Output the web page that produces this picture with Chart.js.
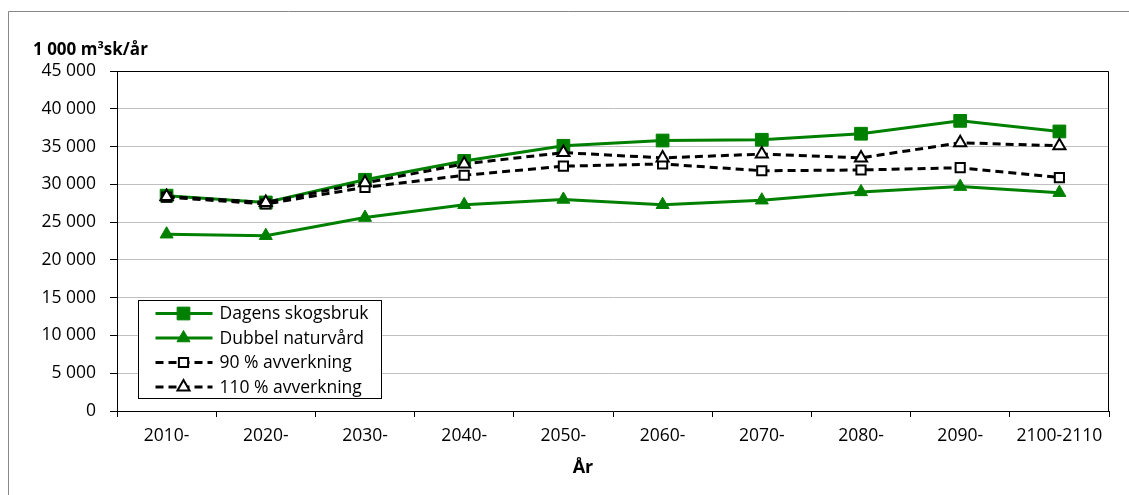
<!DOCTYPE html>
<html>
<head>
<meta charset="utf-8">
<script src="https://cdn.jsdelivr.net/npm/chart.js@4/dist/chart.umd.min.js"></script>
<style>
  body { margin: 0; background: #fff; }
  #wrap { position: relative; width: 1129px; height: 495px; }
</style>
</head>
<body>
<div id="wrap"><canvas id="c"></canvas></div>
<script>
const years = ['2010-', '2020-', '2030-', '2040-', '2050-', '2060-', '2070-', '2080-', '2090-', '2100-2110'];
const dagens = [28500, 27600, 30600, 33100, 35100, 35800, 35900, 36700, 38400, 37000];
const dubbel = [23400, 23200, 25600, 27300, 28000, 27300, 27900, 29000, 29700, 28900];
const avv90 = [28300, 27400, 29600, 31200, 32400, 32700, 31800, 31900, 32200, 30900];
const avv110 = [28400, 27600, 30200, 32700, 34200, 33500, 34000, 33500, 35500, 35100];
const seriesNames = ['Dagens skogsbruk', 'Dubbel naturvård', '90 % avverkning', '110 % avverkning'];
const yTitle = '1 000 m³sk/år';
const xTitle = 'År';

const FONT = '"Open Sans", Lato, sans-serif';
const green = '#008000';

function fmt(v) {
  return String(v).replace(/\B(?=(\d{3})+(?!\d))/g, ' ');
}

function marker(ctx, style, x, y, r, fill, stroke, lw) {
  ctx.save();
  ctx.beginPath();
  if (style === 'rect') {
    const h = r * Math.SQRT1_2;
    ctx.rect(x - h, y - h, 2 * h, 2 * h);
  } else {
    ctx.moveTo(x, y - r);
    ctx.lineTo(x + r * 0.866, y + r * 0.5);
    ctx.lineTo(x - r * 0.866, y + r * 0.5);
    ctx.closePath();
  }
  ctx.fillStyle = fill;
  ctx.fill();
  ctx.lineWidth = lw;
  ctx.strokeStyle = stroke;
  ctx.setLineDash([]);
  ctx.stroke();
  ctx.restore();
}

const extras = {
  id: 'extras',
  beforeDraw(chart) {
    const ctx = chart.ctx;
    ctx.save();
    ctx.strokeStyle = '#878787';
    ctx.lineWidth = 1;
    ctx.beginPath();
    ctx.moveTo(8.5, 495);
    ctx.lineTo(8.5, 11.5);
    ctx.lineTo(1129, 11.5);
    ctx.stroke();
    ctx.restore();
  },
  afterDatasetsDraw(chart) {
    const ctx = chart.ctx;
    const a = chart.chartArea;
    ctx.save();
    // plot frame
    ctx.strokeStyle = '#000';
    ctx.lineWidth = 1;
    ctx.beginPath();
    ctx.moveTo(Math.round(a.left) + 0.5, Math.round(a.top) + 0.5);
    ctx.lineTo(Math.round(a.right) - 0.5, Math.round(a.top) + 0.5);
    ctx.lineTo(Math.round(a.right) - 0.5, Math.round(a.bottom));
    ctx.stroke();

    // axis titles
    ctx.fillStyle = '#000';
    ctx.font = 'bold 17px ' + FONT;
    ctx.textBaseline = 'alphabetic';
    ctx.textAlign = 'left';
    ctx.fillText(yTitle, 33, 55);
    ctx.font = 'bold 18px ' + FONT;
    ctx.textAlign = 'center';
    ctx.fillText(xTitle, 583, 473);

    // legend
    const bx = a.left + 21.5, by = a.top + 229.5, bw = 243, bh = 98;
    ctx.fillStyle = '#fff';
    ctx.fillRect(bx, by, bw, bh);
    ctx.strokeStyle = '#000';
    ctx.strokeRect(bx, by, bw, bh);
    ctx.font = '17.5px ' + FONT;
    ctx.textAlign = 'left';
    ctx.textBaseline = 'middle';
    chart.data.datasets.forEach((ds, i) => {
      const y = by + 13 + i * 24.5;
      ctx.beginPath();
      ctx.strokeStyle = ds.borderColor;
      ctx.lineWidth = ds.borderWidth;
      ctx.setLineDash(ds.borderDash || []);
      ctx.moveTo(bx + 17, y);
      ctx.lineTo(bx + 74, y);
      ctx.stroke();
      ctx.setLineDash([]);
      marker(ctx, ds.pointStyle, bx + 45, y, ds.pointRadius, ds.pointBackgroundColor, ds.pointBorderColor, ds.pointBorderWidth);
      ctx.fillStyle = '#000';
      ctx.fillText(ds.label, bx + 81, y + 1);
    });
    ctx.restore();
  }
};

new Chart(document.getElementById('c'), {
  type: 'line',
  data: {
    labels: years,
    datasets: [
      {
        label: seriesNames[0], data: dagens, order: 3,
        borderColor: green, backgroundColor: green, borderWidth: 3,
        pointStyle: 'rect', pointRadius: 9, pointBackgroundColor: green,
        pointBorderColor: green, pointBorderWidth: 1
      },
      {
        label: seriesNames[1], data: dubbel, order: 2,
        borderColor: green, backgroundColor: green, borderWidth: 3,
        pointStyle: 'triangle', pointRadius: 7.5, pointBackgroundColor: green,
        pointBorderColor: green, pointBorderWidth: 1
      },
      {
        label: seriesNames[2], data: avv90, order: 1,
        borderColor: '#000', backgroundColor: '#fff', borderWidth: 3, borderDash: [8, 5],
        pointStyle: 'rect', pointRadius: 6.5, pointBackgroundColor: '#fff',
        pointBorderColor: '#000', pointBorderWidth: 2
      },
      {
        label: seriesNames[3], data: avv110, order: 0,
        borderColor: '#000', backgroundColor: '#fff', borderWidth: 3, borderDash: [8, 5],
        pointStyle: 'triangle', pointRadius: 7, pointBackgroundColor: '#fff',
        pointBorderColor: '#000', pointBorderWidth: 2
      }
    ]
  },
  options: {
    responsive: true,
    maintainAspectRatio: false,
    animation: false,
    layout: { padding: { top: 71, right: 20, left: 0, bottom: 0 } },
    plugins: { legend: { display: false }, tooltip: { enabled: false } },
    elements: { line: { tension: 0 } },
    scales: {
      x: {
        offset: true,
        grid: { offset: true, drawOnChartArea: false, tickLength: 6, color: '#000' },
        border: { color: '#000' },
        ticks: { color: '#000', font: { family: FONT, size: 17.5 }, padding: 9, maxRotation: 0, autoSkip: false },
        afterFit(s) { s.height = 84; }
      },
      y: {
        min: 0, max: 45000,
        grid: { color: '#c0c0c0', tickLength: 7, tickColor: '#000' },
        border: { color: '#000' },
        ticks: { stepSize: 5000, color: '#000', font: { family: FONT, size: 17.5 }, padding: 14, callback: v => fmt(v) },
        afterFit(s) { s.width = 117; }
      }
    }
  },
  plugins: [extras]
});
</script>
</body>
</html>
